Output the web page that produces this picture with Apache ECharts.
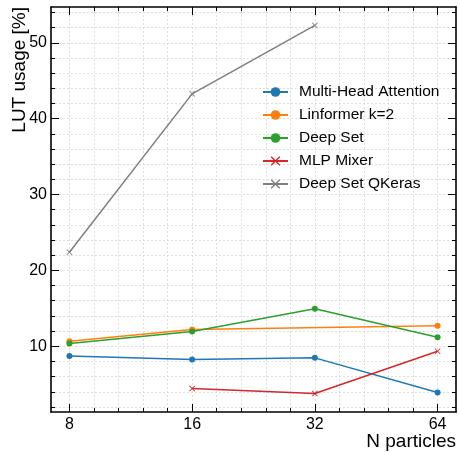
<!DOCTYPE html>
<html>
<head>
<meta charset="utf-8">
<style>
  html, body { margin: 0; padding: 0; background: #fff; }
  #chart { width: 459px; height: 452px; }
</style>
<script src="https://cdn.jsdelivr.net/npm/echarts@6.0.0/dist/echarts.min.js"></script>
</head>
<body>
<div id="chart"></div>
<script>
// data
const nParticles = [8, 16, 32, 64];
const multiHeadAttention = [8.73, 8.25, 8.47, 3.9];
const linformerK2 = [10.66, 12.2, null, 12.69];
const deepSet = [10.36, 11.94, 14.93, 11.19];
const mlpMixer = [null, 4.42, 3.76, 9.34];
const deepSetQKeras = [22.4, 43.28, 52.3, null];
const yTickLabels = [10, 20, 30, 40, 50];

const FONT = '"Liberation Sans", Arial, Helvetica, sans-serif';
const xMin = Math.pow(2, 2.85);
const xMax = Math.pow(2, 6.15);
const yMin = 1.33;
const yMax = 54.73;

// minor ticks: every 0.2 octave on x, every 2 units on y
let xMinor = [];
for (let e = 3; e < 6; e++) {
  for (let k = 1; k < 5; k++) {
    xMinor.push(Math.pow(2, e + k * 0.2));
  }
}
let yMinor = [];
for (let v = 2; v < yMax; v += 2) {
  if (v % 10 != 0) {
    yMinor.push(v);
  }
}

const crossSymbol = 'path://M0,1L1,0L5,4L9,0L10,1L6,5L10,9L9,10L5,6L1,10L0,9L4,5Z';

function makeSeries(name, values, color, symbol) {
  let points = [];
  for (let i = 0; i < nParticles.length; i++) {
    if (values[i] != null) {
      points.push([nParticles[i], values[i]]);
    }
  }
  return {
    name: name,
    type: 'line',
    data: points,
    symbol: symbol == 'x' ? crossSymbol : 'circle',
    symbolSize: 6,
    showSymbol: true,
    color: color,
    lineStyle: { width: 1.5, color: color },
    itemStyle: { color: color },
    emphasis: { disabled: true },
    animation: false
  };
}

const gridLine = { show: true, lineStyle: { color: '#d6d6d6', width: 0.8, type: [2, 2] } };

function xAxis(position, ticks, len, labels, split, line) {
  return {
    type: 'log',
    logBase: 2,
    min: xMin,
    max: xMax,
    position: position,
    axisLine: { show: line, onZero: false, lineStyle: { color: '#000', width: 1.6 } },
    axisTick: { show: true, inside: true, length: len, customValues: ticks, lineStyle: { color: '#000', width: 1 } },
    axisLabel: labels
      ? { show: true, customValues: ticks, margin: 5, color: '#000', fontSize: 16, fontFamily: FONT }
      : { show: false },
    splitLine: split ? gridLine : { show: false },
    minorTick: { show: false },
    minorSplitLine: { show: false }
  };
}

function yAxis(position, ticks, len, labels, split, line) {
  return {
    type: 'value',
    min: yMin,
    max: yMax,
    position: position,
    axisLine: { show: line, onZero: false, lineStyle: { color: '#000', width: 1.6 } },
    axisTick: { show: true, inside: true, length: len, customValues: ticks, lineStyle: { color: '#000', width: 1 } },
    axisLabel: labels
      ? { show: true, customValues: ticks, margin: 4, color: '#000', fontSize: 16, fontFamily: FONT }
      : { show: false },
    splitLine: split ? gridLine : { show: false }
  };
}

let chart = echarts.init(document.querySelector('#chart'));

chart.setOption({
  animation: false,
  grid: { left: 51, right: 3, top: 7, bottom: 40, containLabel: false },
  xAxis: [
    xAxis('bottom', nParticles, 8, true, true, true),
    xAxis('bottom', xMinor, 4, false, true, false),
    xAxis('top', nParticles, 8, false, false, true),
    xAxis('top', xMinor, 4, false, false, false)
  ],
  yAxis: [
    yAxis('left', yTickLabels, 8, true, true, true),
    yAxis('left', yMinor, 4, false, true, false),
    yAxis('right', yTickLabels, 8, false, false, true),
    yAxis('right', yMinor, 4, false, false, false)
  ],
  legend: {
    orient: 'vertical',
    left: 262,
    top: 83,
    padding: 0,
    itemWidth: 25,
    itemHeight: 12,
    itemGap: 5,
    textStyle: { fontSize: 15.5, fontFamily: FONT, color: '#000', lineHeight: 18, padding: [0, 0, 0, 6] },
    data: ['Multi-Head Attention', 'Linformer k=2', 'Deep Set', 'MLP Mixer', 'Deep Set QKeras']
  },
  graphic: [
    {
      type: 'text',
      x: 10,
      y: 7,
      rotation: Math.PI / 2,
      style: { text: 'LUT usage [%]', font: '19px ' + FONT, fill: '#000', align: 'right', verticalAlign: 'top' }
    },
    {
      type: 'text',
      x: 456,
      y: 432,
      style: { text: 'N particles', font: '19px ' + FONT, fill: '#000', align: 'right', verticalAlign: 'top' }
    }
  ],
  series: [
    makeSeries('Multi-Head Attention', multiHeadAttention, '#1f77b4', 'o'),
    makeSeries('Linformer k=2', linformerK2, '#ff7f0e', 'o'),
    makeSeries('Deep Set', deepSet, '#2ca02c', 'o'),
    makeSeries('MLP Mixer', mlpMixer, '#d62728', 'x'),
    makeSeries('Deep Set QKeras', deepSetQKeras, '#7f7f7f', 'x')
  ]
});
</script>
</body>
</html>
